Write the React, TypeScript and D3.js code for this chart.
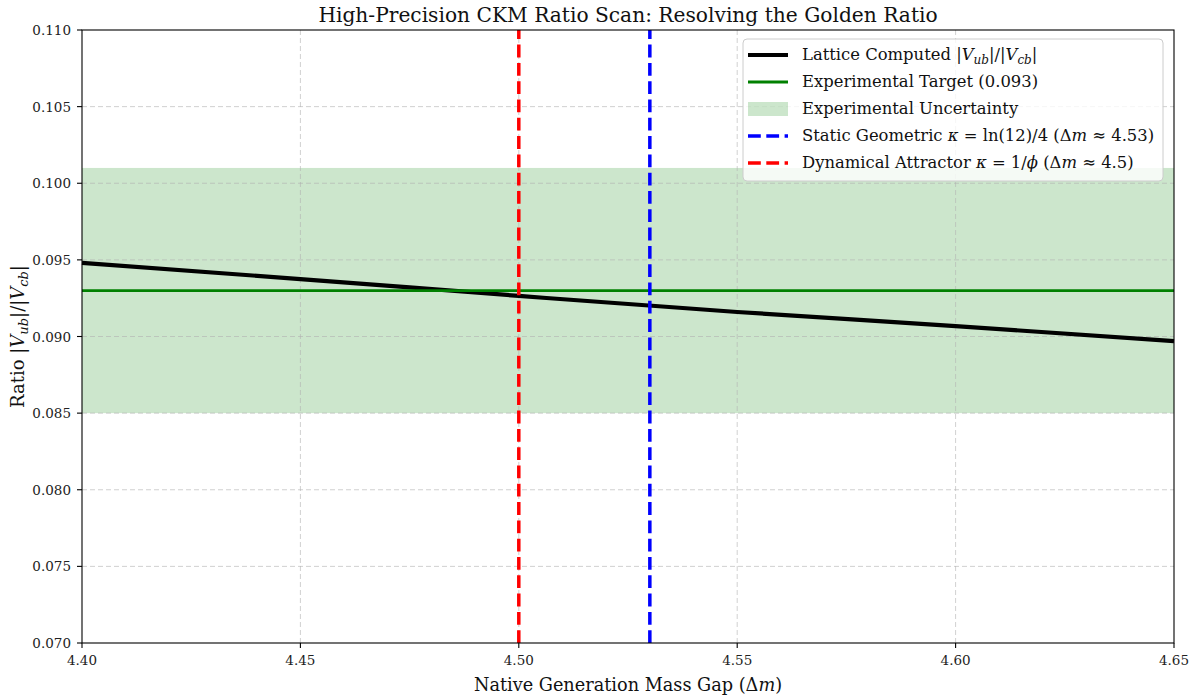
import React from "react";
import * as d3 from "d3";

const massGap = [4.40, 4.45, 4.50, 4.55, 4.60, 4.65];
const latticeRatio = [0.0948, 0.09375, 0.09265, 0.0916, 0.09068, 0.0897];
const experimentalTarget = 0.093;
const uncertaintyBand = [0.085, 0.101];
const staticGeometric = 4.53;
const dynamicalAttractor = 4.5;
const xTicks = [4.40, 4.45, 4.50, 4.55, 4.60, 4.65];
const yTicks = [0.070, 0.075, 0.080, 0.085, 0.090, 0.095, 0.100, 0.105, 0.110];

const W = 1198;
const H = 697;
const margin = { top: 30, right: 24, bottom: 54, left: 82 };
const FONT = "'DejaVu Serif', 'Liberation Serif', serif";

export default function App() {
  const x = d3.scaleLinear().domain([4.40, 4.65]).range([margin.left, W - margin.right]);
  const y = d3.scaleLinear().domain([0.070, 0.110]).range([H - margin.bottom, margin.top]);
  const [x0, x1] = x.range();
  const [y0, y1] = y.range();

  const line = d3.line<number>()
    .x((_, i) => x(massGap[i]))
    .y(d => y(d))
    .curve(d3.curveMonotoneX);

  const legendX = 743;
  const legendY = 39;
  const rowH = 27;
  const handleX = 748;
  const textX = 802;

  return (
    <svg width={W} height={H} style={{ position: "absolute", left: 0, top: 0, background: "#fff" }} fontFamily={FONT}>
      {/* uncertainty band */}
      <rect x={x0} width={x1 - x0} y={y(uncertaintyBand[1])} height={y(uncertaintyBand[0]) - y(uncertaintyBand[1])} fill="green" fillOpacity={0.2} />

      {/* grid */}
      <g stroke="#b0b0b0" strokeOpacity={0.6} strokeWidth={1} strokeDasharray="5,3">
        {xTicks.slice(1, -1).map(t => <line key={t} x1={x(t)} x2={x(t)} y1={y0} y2={y1} />)}
        {yTicks.slice(1, -1).map(t => <line key={t} x1={x0} x2={x1} y1={y(t)} y2={y(t)} />)}
      </g>

      {/* data */}
      <path d={line(latticeRatio) || ""} fill="none" stroke="#000" strokeWidth={4.2} />
      <line x1={x0} x2={x1} y1={y(experimentalTarget)} y2={y(experimentalTarget)} stroke="green" strokeWidth={2.8} />
      <line x1={x(staticGeometric)} x2={x(staticGeometric)} y1={y0} y2={y1} stroke="blue" strokeWidth={3.5} strokeDasharray="12.8,5.5" />
      <line x1={x(dynamicalAttractor)} x2={x(dynamicalAttractor)} y1={y0} y2={y1} stroke="red" strokeWidth={3.5} strokeDasharray="12.8,5.5" />

      {/* frame */}
      <rect x={x0} y={y1} width={x1 - x0} height={y0 - y1} fill="none" stroke="#000" strokeWidth={1.1} />

      {/* ticks */}
      <g fontSize={13.5} fill="#222">
        {xTicks.map(t => (
          <g key={t}>
            <line x1={x(t)} x2={x(t)} y1={y0} y2={y0 + 5} stroke="#000" strokeWidth={1.1} />
            <text x={x(t)} y={y0 + 22} textAnchor="middle">{t.toFixed(2)}</text>
          </g>
        ))}
        {yTicks.map(t => (
          <g key={t}>
            <line x1={x0 - 5} x2={x0} y1={y(t)} y2={y(t)} stroke="#000" strokeWidth={1.1} />
            <text x={x0 - 11} y={y(t) + 5} textAnchor="end">{t.toFixed(3)}</text>
          </g>
        ))}
      </g>

      {/* title and axis labels */}
      <text x={(x0 + x1) / 2} y={22} textAnchor="middle" fontSize={20.2} fill="#111">
        High-Precision CKM Ratio Scan: Resolving the Golden Ratio
      </text>
      <text x={(x0 + x1) / 2} y={691} textAnchor="middle" fontSize={17.7} fill="#111">
        Native Generation Mass Gap (Δ<tspan fontStyle="italic">m</tspan>)
      </text>
      <text transform={`translate(24,${(y0 + y1) / 2}) rotate(-90)`} textAnchor="middle" fontSize={18} fill="#111">
        Ratio |<tspan fontStyle="italic">V</tspan><tspan fontStyle="italic" fontSize={13} dy={4}>ub</tspan><tspan dy={-4}>|/|</tspan><tspan fontStyle="italic">V</tspan><tspan fontStyle="italic" fontSize={13} dy={4}>cb</tspan><tspan dy={-4}>|</tspan>
      </text>

      {/* legend */}
      <rect x={legendX} y={legendY} width={420} height={142} rx={4} fill="#fff" fillOpacity={0.8} stroke="#ccc" strokeWidth={1} />
      <g fontSize={16.4} fill="#111">
        <line x1={handleX} x2={handleX + 40} y1={legendY + 16} y2={legendY + 16} stroke="#000" strokeWidth={4.2} />
        <text x={textX} y={legendY + 21}>
          Lattice Computed |<tspan fontStyle="italic">V</tspan><tspan fontStyle="italic" fontSize={12} dy={4}>ub</tspan><tspan dy={-4}>|/|</tspan><tspan fontStyle="italic">V</tspan><tspan fontStyle="italic" fontSize={12} dy={4}>cb</tspan><tspan dy={-4}>|</tspan>
        </text>

        <line x1={handleX} x2={handleX + 40} y1={legendY + 16 + rowH} y2={legendY + 16 + rowH} stroke="green" strokeWidth={2.8} />
        <text x={textX} y={legendY + 21 + rowH}>Experimental Target (0.093)</text>

        <rect x={handleX} y={legendY + 9 + rowH * 2} width={40} height={14} fill="green" fillOpacity={0.2} />
        <text x={textX} y={legendY + 21 + rowH * 2}>Experimental Uncertainty</text>

        <line x1={handleX} x2={handleX + 40} y1={legendY + 16 + rowH * 3} y2={legendY + 16 + rowH * 3} stroke="blue" strokeWidth={3.5} strokeDasharray="12.8,5.5" />
        <text x={textX} y={legendY + 21 + rowH * 3}>
          Static Geometric <tspan fontStyle="italic">κ</tspan> = ln(12)/4 (Δ<tspan fontStyle="italic">m</tspan> ≈ 4.53)
        </text>

        <line x1={handleX} x2={handleX + 40} y1={legendY + 16 + rowH * 4} y2={legendY + 16 + rowH * 4} stroke="red" strokeWidth={3.5} strokeDasharray="12.8,5.5" />
        <text x={textX} y={legendY + 21 + rowH * 4}>
          Dynamical Attractor <tspan fontStyle="italic">κ</tspan> = 1/<tspan fontStyle="italic">ϕ</tspan> (Δ<tspan fontStyle="italic">m</tspan> ≈ 4.5)
        </text>
      </g>
    </svg>
  );
}
